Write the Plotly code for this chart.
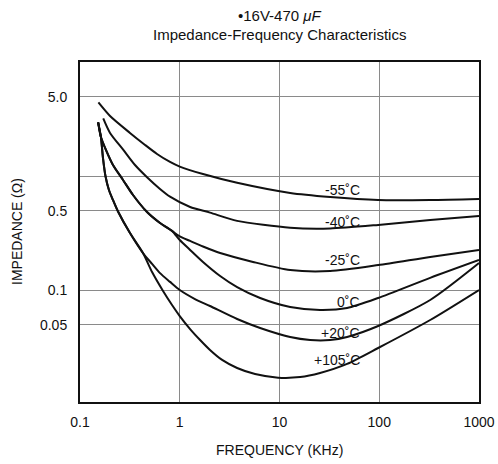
import plotly.graph_objects as go

# ---- data (frequency in kHz, impedance in ohm) ----
f_m55 = [0.153, 0.200, 0.317, 0.449, 0.592, 0.799, 1.0, 1.71, 3.76, 12.8, 32.2, 97.5, 324, 1000]
z_m55 = [4.46, 3.39, 2.41, 1.89, 1.575, 1.34, 1.22, 1.05, 0.880, 0.717, 0.661, 0.622, 0.622, 0.635]

f_m40 = [0.171, 0.200, 0.272, 0.356, 0.467, 0.634, 0.799, 1.27, 2.01, 3.76, 12.8, 32.2, 97.5, 324, 1000]
z_m40 = [3.23, 2.41, 1.71, 1.26, 0.990, 0.777, 0.665, 0.540, 0.482, 0.408, 0.355, 0.350, 0.376, 0.415, 0.450]

# shared upper branch (splits into -25 C and 0 C)
f_a = [0.152, 0.162, 0.182, 0.214, 0.270, 0.340, 0.470, 0.634, 0.837]
z_a = [2.98, 2.22, 1.71, 1.26, 0.932, 0.688, 0.488, 0.391, 0.333]

f_m25 = f_a + [1.0, 1.27, 1.71, 2.54, 5.43, 12.8, 32.2, 97.5, 324, 1000]
z_m25 = z_a + [0.298, 0.272, 0.243, 0.213, 0.178, 0.151, 0.148, 0.167, 0.197, 0.227]

f_0 = f_a + [1.0, 1.27, 1.71, 2.54, 3.76, 6.39, 12.8, 25.5, 47.6, 97.5, 324, 1000]
z_0 = z_a + [0.277, 0.227, 0.178, 0.134, 0.107, 0.0859, 0.0716, 0.0675, 0.0702, 0.0859, 0.129, 0.185]

# shared lower branch (splits into +20 C and +105 C)
f_b = [0.152, 0.162, 0.170, 0.180, 0.195, 0.214, 0.2405, 0.317, 0.428]
z_b = [2.98, 2.22, 1.45, 1.01, 0.761, 0.622, 0.493, 0.319, 0.213]

f_20 = f_b + [0.528, 0.634, 0.799, 1.0, 1.42, 2.01, 3.76, 6.39, 12.8, 20.3, 32.2, 47.6, 97.5, 324, 1000]
z_20 = z_b + [0.171, 0.142, 0.119, 0.101, 0.0842, 0.0731, 0.0562, 0.0469, 0.0391, 0.0368, 0.0368, 0.0391, 0.0488, 0.0825, 0.174]

f_105 = f_b + [0.528, 0.680, 0.837, 1.0, 1.27, 1.60, 2.01, 2.66, 3.76, 5.69, 9.68, 16.1, 25.5, 47.6, 97.5, 324, 1000]
z_105 = z_b + [0.145, 0.099, 0.0746, 0.0597, 0.0459, 0.0368, 0.0301, 0.0246, 0.0209, 0.0185, 0.0172, 0.0174, 0.0189, 0.0227, 0.0313, 0.0551, 0.101]

series = [
    ("-55˚C", f_m55, z_m55),
    ("-40˚C", f_m40, z_m40),
    ("-25˚C", f_m25, z_m25),
    ("0˚C", f_0, z_0),
    ("+20˚C", f_20, z_20),
    ("+105˚C", f_105, z_105),
]

x_ticks = [0.1, 1, 10, 100, 1000]
x_ticktext = ["0.1", "1", "10", "100", "1000"]
y_ticks = [0.05, 0.1, 0.5, 1, 5]
y_ticktext = ["0.05", "0.1", "0.5", "", "5.0"]

# label vertical positions (pixels from top), right-aligned at a common x
label_pos = {
    "-55˚C": 190, "-40˚C": 222, "-25˚C": 260,
    "0˚C": 302, "+20˚C": 333, "+105˚C": 360,
}

FONT = "Liberation Sans, Arial, Helvetica, sans-serif"
L, R, T, B, W, H = 80, 19, 62, 62, 498, 464
PW, PH = W - L - R, H - T - B

fig = go.Figure()
for name, f, z in series:
    fig.add_trace(go.Scatter(
        x=f, y=z, mode="lines", name=name,
        line=dict(color="#111111", width=2, shape="spline", smoothing=0.7),
        showlegend=False, hoverinfo="skip",
    ))

annotations = []
for name, py in label_pos.items():
    annotations.append(dict(
        x=(362 - L) / PW, y=(H - B - py) / PH, xref="paper", yref="paper",
        xanchor="right", yanchor="middle", text=name, showarrow=False,
        font=dict(family=FONT, size=14, color="#111111"),
    ))

annotations.append(dict(
    x=0.5, y=(H - B - 15) / PH, xref="paper", yref="paper",
    xanchor="center", yanchor="middle", showarrow=False,
    text="•16V-470 <i>μF</i>", font=dict(family=FONT, size=15, color="#111111"),
))
annotations.append(dict(
    x=0.5, y=(H - B - 34) / PH, xref="paper", yref="paper",
    xanchor="center", yanchor="middle", showarrow=False,
    text="Impedance-Frequency Characteristics", font=dict(family=FONT, size=15, color="#111111"),
))
annotations.append(dict(
    x=-(L - 17) / PW, y=0.5, xref="paper", yref="paper",
    xanchor="center", yanchor="middle", showarrow=False, textangle=-90,
    text="IMPEDANCE (Ω)", font=dict(family=FONT, size=14, color="#111111"),
))
annotations.append(dict(
    x=0.5, y=-(450 - (H - B)) / PH, xref="paper", yref="paper",
    xanchor="center", yanchor="middle", showarrow=False,
    text="FREQUENCY (KHz)", font=dict(family=FONT, size=14, color="#111111"),
))

fig.update_layout(
    width=W, height=H,
    margin=dict(l=L, r=R, t=T, b=B, autoexpand=False),
    paper_bgcolor="white", plot_bgcolor="white",
    font=dict(family=FONT, size=14, color="#111111"),
    annotations=annotations,
)

fig.update_xaxes(
    type="log", range=[-1, 3], automargin=False,
    tickvals=x_ticks, ticktext=x_ticktext, ticks="",
    ticklabelstandoff=6,
    showgrid=True, gridcolor="#8a8a8a", gridwidth=1.3,
    showline=True, mirror=True, linecolor="#111111", linewidth=2,
    zeroline=False,
    tickfont=dict(family=FONT, size=14),
)
fig.update_yaxes(
    type="log", range=[-1.978, 1.004], automargin=False,
    tickvals=y_ticks, ticktext=y_ticktext, ticks="",
    ticklabelstandoff=8,
    showgrid=True, gridcolor="#8a8a8a", gridwidth=1.3,
    showline=True, mirror=True, linecolor="#111111", linewidth=2,
    zeroline=False,
    tickfont=dict(family=FONT, size=14),
)

fig.write_html(
    "out.html",
    config={"displayModeBar": False},
    post_script="document.body.style.margin='0';document.body.style.padding='0';",
)
